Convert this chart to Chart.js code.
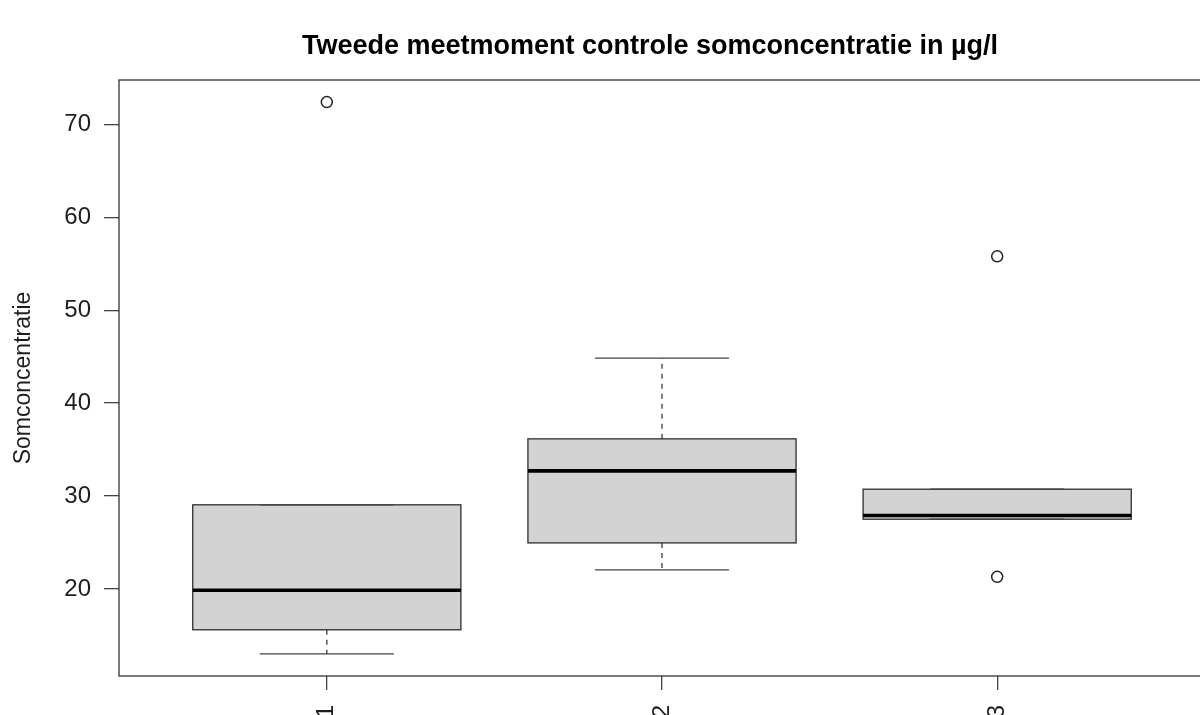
<!DOCTYPE html>
<html>
<head>
<meta charset="utf-8">
<title>Somconcentratie boxplot</title>
<script src="https://cdn.jsdelivr.net/npm/chart.js@4/dist/chart.umd.min.js"></script>
<style>
  html, body { margin: 0; padding: 0; background: #fff; }
  #wrap { width: 1200px; height: 715px; overflow: hidden; position: relative; }
  #boxChart { display: block; }
</style>
</head>
<body>
<div id="wrap">
  <canvas id="boxChart" width="1220" height="715"></canvas>
</div>
<script>
"use strict";

// meetpunten en hun boxplot-statistieken
const groups = ['1', '2', '3'];
const whiskerLow = [13.0, 22.05, 27.5];
const q1 = [15.6, 24.95, 27.5];
const median = [19.85, 32.7, 27.9];
const q3 = [29.05, 36.15, 30.73];
const whiskerHigh = [29.05, 44.85, 30.73];
const outliers = [[72.4], [], [55.8, 21.3]];

const yTicks = [20, 30, 40, 50, 60, 70];
const titleText = 'Tweede meetmoment controle somconcentratie in µg/l';
const yLabel = 'Somconcentratie';

const fontFamily = '"Liberation Sans", Arial, Helvetica, sans-serif';

// y-bereik zoals R het kiest: 4% ruimte rond de data
const allValues = whiskerLow.concat(whiskerHigh, ...outliers);
const dataMin = Math.min(...allValues);
const dataMax = Math.max(...allValues);
const yPad = (dataMax - dataMin) * 0.04;

const outlierPoints = [];
outliers.forEach((list, i) => {
  list.forEach(v => outlierPoints.push({ x: i + 1, y: v }));
});

const boxPlugin = {
  id: 'boxPlugin',
  beforeDatasetsDraw(chart) {
    const ctx = chart.ctx;
    const xs = chart.scales.x;
    const ys = chart.scales.y;
    ctx.save();
    groups.forEach((g, i) => {
      const c = i + 1;
      const xl = xs.getPixelForValue(c - 0.4);
      const xr = xs.getPixelForValue(c + 0.4);
      const xm = xs.getPixelForValue(c);
      const sl = xs.getPixelForValue(c - 0.2);
      const sr = xs.getPixelForValue(c + 0.2);
      const yq1 = ys.getPixelForValue(q1[i]);
      const yq3 = ys.getPixelForValue(q3[i]);
      const ymed = ys.getPixelForValue(median[i]);
      const ylo = ys.getPixelForValue(whiskerLow[i]);
      const yhi = ys.getPixelForValue(whiskerHigh[i]);

      // gestippelde snorharen
      ctx.strokeStyle = '#3a3a3a';
      ctx.lineWidth = 1.3;
      ctx.setLineDash([5, 5]);
      ctx.beginPath();
      if (whiskerHigh[i] > q3[i]) {
        ctx.moveTo(xm, yq3);
        ctx.lineTo(xm, yhi);
      }
      if (whiskerLow[i] < q1[i]) {
        ctx.moveTo(xm, yq1);
        ctx.lineTo(xm, ylo);
      }
      ctx.stroke();
      ctx.setLineDash([]);

      // doos
      ctx.fillStyle = '#d3d3d3';
      ctx.fillRect(xl, yq3, xr - xl, yq1 - yq3);
      ctx.strokeStyle = '#2e2e2e';
      ctx.lineWidth = 1.3;
      ctx.strokeRect(xl, yq3, xr - xl, yq1 - yq3);

      // mediaan
      ctx.strokeStyle = '#000';
      ctx.lineWidth = 3.6;
      ctx.beginPath();
      ctx.moveTo(xl, ymed);
      ctx.lineTo(xr, ymed);
      ctx.stroke();

      // uiteinden
      ctx.strokeStyle = '#444';
      ctx.lineWidth = 1.3;
      ctx.beginPath();
      ctx.moveTo(sl, yhi);
      ctx.lineTo(sr, yhi);
      ctx.moveTo(sl, ylo);
      ctx.lineTo(sr, ylo);
      ctx.stroke();
    });
    ctx.restore();
  },
  afterDraw(chart) {
    const ctx = chart.ctx;
    const area = chart.chartArea;
    ctx.save();
    ctx.strokeStyle = '#333';
    ctx.lineWidth = 1.3;
    ctx.strokeRect(area.left, area.top, area.right - area.left, area.bottom - area.top);

    ctx.fillStyle = '#000';
    ctx.font = 'bold 27px ' + fontFamily;
    ctx.textAlign = 'center';
    ctx.textBaseline = 'middle';
    ctx.fillText(titleText, (area.left + area.right) / 2 - 12, 47);
    ctx.restore();
  }
};

const ctx = document.getElementById('boxChart').getContext('2d');
const boxChart = new Chart(ctx, {
  type: 'scatter',
  data: {
    datasets: [{
      label: 'uitschieters',
      data: outlierPoints,
      pointRadius: 5.5,
      pointHoverRadius: 5.5,
      pointBorderWidth: 1.5,
      pointBorderColor: '#222',
      pointBackgroundColor: 'rgba(255,255,255,0)',
      showLine: false
    }]
  },
  options: {
    responsive: false,
    animation: false,
    events: [],
    layout: { padding: { top: 80, right: 15, left: 0, bottom: 0 } },
    plugins: {
      legend: { display: false },
      tooltip: { enabled: false },
      title: { display: false }
    },
    scales: {
      x: {
        type: 'linear',
        min: 0.38,
        max: 3.62,
        afterBuildTicks: (scale) => {
          scale.ticks = groups.map((g, i) => ({ value: i + 1 }));
        },
        afterFit: (scale) => { scale.height = 39; },
        border: { display: false },
        grid: {
          drawOnChartArea: false,
          drawTicks: true,
          tickLength: 14,
          color: '#444',
          lineWidth: 1.3
        },
        ticks: {
          autoSkip: false,
          minRotation: 90,
          maxRotation: 90,
          padding: 15,
          color: '#1e1e1e',
          font: { family: fontFamily, size: 24 },
          callback: (value) => groups[Math.round(value) - 1]
        }
      },
      y: {
        type: 'linear',
        min: dataMin - yPad,
        max: dataMax + yPad,
        afterBuildTicks: (scale) => {
          scale.ticks = yTicks.map(v => ({ value: v }));
        },
        afterFit: (scale) => { scale.width = 119; },
        border: { display: false },
        grid: {
          drawOnChartArea: false,
          drawTicks: true,
          tickLength: 15,
          color: '#444',
          lineWidth: 1.3
        },
        ticks: {
          padding: 13,
          color: '#1e1e1e',
          font: { family: fontFamily, size: 24 },
          callback: (value) => String(value)
        },
        title: {
          display: true,
          text: yLabel,
          color: '#1e1e1e',
          font: { family: fontFamily, size: 23 },
          padding: { top: 10, bottom: 0 }
        }
      }
    }
  },
  plugins: [boxPlugin]
});
</script>
</body>
</html>
